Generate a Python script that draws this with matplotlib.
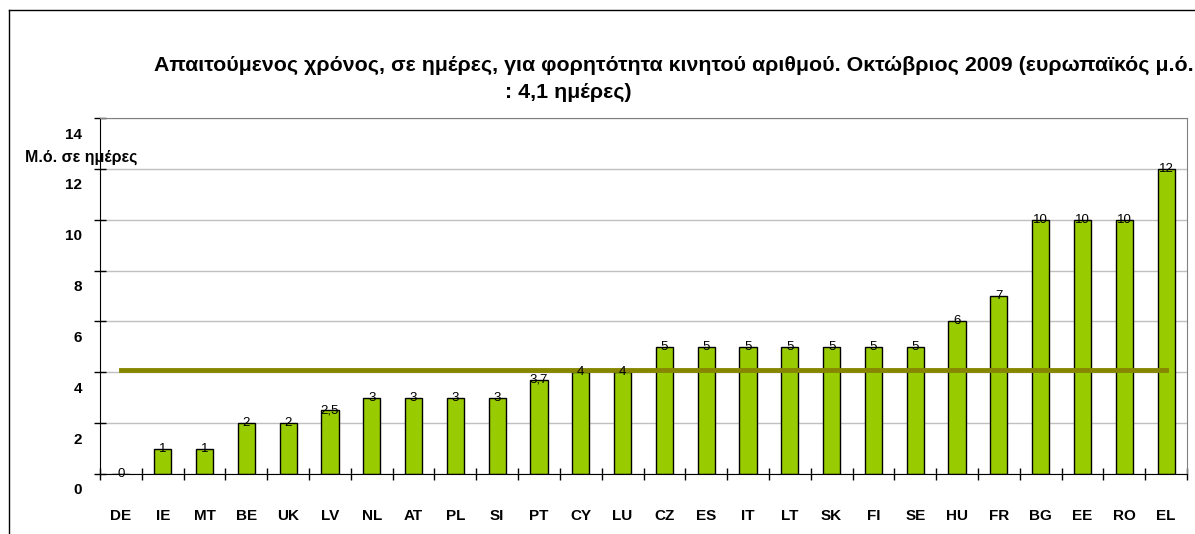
import matplotlib.pyplot as plt
from matplotlib.lines import Line2D
from matplotlib.transforms import ScaledTranslation

countries = ["DE", "IE", "MT", "BE", "UK", "LV", "NL", "AT", "PL", "SI", "PT", "CY", "LU",
             "CZ", "ES", "IT", "LT", "SK", "FI", "SE", "HU", "FR", "BG", "EE", "RO", "EL"]
days = [0, 1, 1, 2, 2, 2.5, 3, 3, 3, 3, 3.7, 4, 4,
        5, 5, 5, 5, 5, 5, 5, 6, 7, 10, 10, 10, 12]
eu_average = 4.1
y_ticks = [0, 2, 4, 6, 8, 10, 12, 14]

plt.rcParams["font.family"] = ["Liberation Sans", "DejaVu Sans"]

W, H = 1195, 534
fig = plt.figure(figsize=(W / 100, H / 100), dpi=100)

# outer chart border (only left and top visible in the crop)
fig.add_artist(Line2D([9 / W, 9 / W], [0, 1 - 10 / H], color="black", lw=1))
fig.add_artist(Line2D([9 / W, 1], [1 - 10 / H, 1 - 10 / H], color="black", lw=1))

ax = fig.add_axes([100 / W, (H - 474) / H, 1087 / W, (474 - 118) / H])
x = range(len(countries))
ax.bar(x, days, width=0.41, color="#99CC00", edgecolor="black", linewidth=1, zorder=2)
ax.plot([0, len(countries) - 1], [eu_average, eu_average], color="#868600", lw=3.5, zorder=3)

for xi, v in zip(x, days):
    ax.text(xi, v, f"{v:g}".replace(".", ","), ha="center", va="center", fontsize=9.5, zorder=4)

ax.set_xlim(-0.5, len(countries) - 0.5)
ax.set_ylim(0, 14)
ax.set_yticks(y_ticks)
ax.set_yticklabels([str(t) for t in y_ticks], fontweight="bold", fontsize=11)
ax.tick_params(axis="y", direction="inout", length=9, width=1, pad=8.5)
off = ScaledTranslation(0, -15 / 100, fig.dpi_scale_trans)
for lab in ax.get_yticklabels():
    lab.set_transform(lab.get_transform() + off)

ax.set_xticks(list(x))
ax.set_xticklabels(countries, fontweight="bold", fontsize=11)
ax.tick_params(axis="x", which="major", length=0, pad=25)
ax.set_xticks([i - 0.5 for i in range(len(countries) + 1)], minor=True)
ax.tick_params(axis="x", which="minor", direction="inout", length=9, width=1)

ax.yaxis.grid(True, color="#c0c0c0", lw=1, zorder=0)
ax.set_axisbelow(True)
for s in ["top", "right"]:
    ax.spines[s].set_color("#808080")
for s in ["left", "bottom"]:
    ax.spines[s].set_color("black")

fig.text(25 / W, 1 - 157 / H, "Μ.ό. σε ημέρες", fontweight="bold", fontsize=11.5,
         ha="left", va="center")
fig.text(674 / W, 1 - 65 / H,
         "Απαιτούμενος χρόνος, σε ημέρες, για φορητότητα κινητού αριθμού. Οκτώβριος 2009 (ευρωπαϊκός μ.ό.",
         fontweight="bold", fontsize=15.4, ha="center", va="center")
fig.text(568 / W, 1 - 92 / H, ": 4,1 ημέρες)", fontweight="bold", fontsize=15.4,
         ha="center", va="center")

fig.savefig("out.png", dpi=100)
